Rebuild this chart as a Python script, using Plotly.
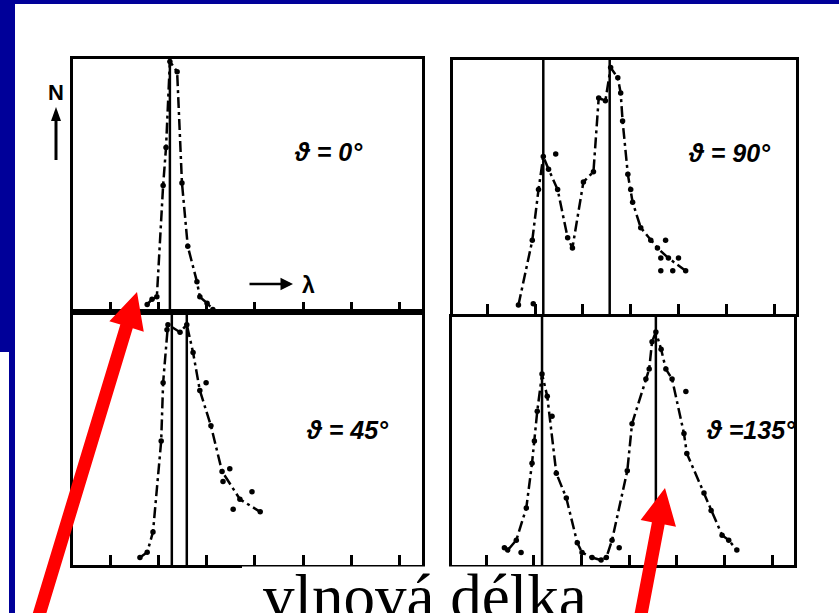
import numpy as np
import plotly.graph_objects as go

W, H = 839, 613

# wavelength in tick units, N normalised to panel height
tl_x = [0.77, 0.87, 0.97, 1.10, 1.16, 1.24, 1.39, 1.49, 1.61, 1.80, 1.86, 2.01, 2.13]
tl_n = [0.03, 0.05, 0.06, 0.50, 0.65, 0.99, 0.95, 0.51, 0.26, 0.12, 0.06, 0.035, 0.01]

tr_x = [0.65, 0.94, 1.07, 1.17, 1.28, 1.47, 1.68, 1.78, 2.01, 2.22, 2.33, 2.47, 2.58,
        2.73, 2.79, 2.83, 2.94, 3.00, 3.04, 3.21, 3.42, 3.56, 3.79, 4.15]
tr_n = [0.035, 0.29, 0.49, 0.62, 0.57, 0.49, 0.30, 0.26, 0.52, 0.56, 0.85, 0.84, 0.97,
        0.93, 0.87, 0.76, 0.55, 0.49, 0.44, 0.34, 0.29, 0.26, 0.22, 0.17]
tr_dots_x = [0.96, 1.43, 3.73, 3.63, 4.00, 3.63, 3.88]
tr_dots_n = [0.04, 0.63, 0.29, 0.22, 0.22, 0.17, 0.17]

bl_x = [0.62, 0.77, 0.89, 1.06, 1.10, 1.18, 1.20, 1.45, 1.59, 1.72, 1.86, 2.09, 2.32, 2.69, 3.11]
bl_n = [0.03, 0.05, 0.13, 0.49, 0.72, 0.93, 0.95, 0.92, 0.95, 0.84, 0.69, 0.55, 0.37, 0.26, 0.21]
bl_dots_x = [1.99, 2.48, 2.55, 2.94, 2.34]
bl_dots_n = [0.72, 0.38, 0.22, 0.29, 0.33]

br_x = [0.45, 0.63, 0.84, 0.96, 1.07, 1.17, 1.28, 1.47, 1.68, 1.91, 2.01, 2.22, 2.41, 2.52,
        2.64, 2.96, 3.06, 3.35, 3.42, 3.48, 3.56, 3.67, 3.77, 3.90, 4.15, 4.21, 4.57, 4.72,
        4.95, 5.09, 5.26]
br_n = [0.06, 0.10, 0.23, 0.41, 0.62, 0.77, 0.68, 0.37, 0.27, 0.09, 0.05, 0.03, 0.02, 0.03,
        0.10, 0.38, 0.57, 0.75, 0.79, 0.90, 0.94, 0.87, 0.79, 0.75, 0.53, 0.45, 0.29, 0.22,
        0.12, 0.10, 0.06]
br_dots_x = [0.38, 0.73, 1.01, 1.38, 2.79, 4.19]
br_dots_n = [0.07, 0.05, 0.50, 0.60, 0.07, 0.70]

# reference wavelengths (vertical lines)
tl_lines = [1.24]
tr_lines = [1.17, 2.56]
bl_lines = [1.28, 1.59]
br_lines = [1.17, 3.56]

labels = ["ϑ = 0°", "ϑ = 90°", "ϑ = 45°", "ϑ =135°"]
tick_vals = [0, 1, 2, 3, 4, 5, 6]


def px(x):
    return x / W


def py(y):
    return 1 - y / H


fig = go.Figure()

panels = [
    ("x", "y", tl_x, tl_n, [], [], tl_lines),
    ("x2", "y2", tr_x, tr_n, tr_dots_x, tr_dots_n, tr_lines),
    ("x3", "y3", bl_x, bl_n, bl_dots_x, bl_dots_n, bl_lines),
    ("x4", "y4", br_x, br_n, br_dots_x, br_dots_n, br_lines),
]

shapes = []
for xa, ya, xs, ns, dx, dn, vlines in panels:
    fig.add_trace(go.Scatter(
        x=xs, y=ns, xaxis=xa, yaxis=ya, mode="lines+markers",
        line=dict(color="black", width=2.5, dash="11px,4px,3px,4px"),
        marker=dict(color="black", size=5.5), showlegend=False
    ))
    if dx:
        fig.add_trace(go.Scatter(
            x=dx, y=dn, xaxis=xa, yaxis=ya, mode="markers",
            marker=dict(color="black", size=5.5), showlegend=False
        ))
    for v in vlines:
        shapes.append(dict(type="line", xref=xa, yref=ya + " domain", x0=v, x1=v, y0=0, y1=1,
                           line=dict(color="black", width=2.5)))

# page background pieces (blue slide frame)
blue = "#000099"
shapes += [
    dict(type="rect", xref="paper", yref="paper", x0=0, x1=1, y0=py(4), y1=1,
         fillcolor=blue, line_width=0, layer="below"),
    dict(type="rect", xref="paper", yref="paper", x0=0, x1=px(15), y0=py(352), y1=1,
         fillcolor=blue, line_width=0, layer="below"),
    dict(type="rect", xref="paper", yref="paper", x0=px(9), x1=px(15), y0=0, y1=py(352),
         fillcolor=blue, line_width=0, layer="below"),
    # white box behind the caption
    dict(type="rect", xref="paper", yref="paper", x0=px(242), x1=px(610), y0=0, y1=py(566.5),
         fillcolor="white", line_width=0, layer="above"),
    # N axis arrow
    dict(type="line", xref="paper", yref="paper", x0=px(56), x1=px(56), y0=py(160), y1=py(118),
         line=dict(color="black", width=3)),
    dict(type="path", xref="paper", yref="paper",
         path=f"M {px(51)},{py(121)} L {px(56)},{py(107)} L {px(61)},{py(121)} Z",
         fillcolor="black", line_width=0),
]


def arrow(tail, tip, width, head_len, head_w):
    t = np.array(tail, float)
    h = np.array(tip, float)
    u = (h - t) / np.linalg.norm(h - t)
    n = np.array([-u[1], u[0]])
    b = h - u * head_len
    pts = [t + n * width / 2, b + n * width / 2, b + n * head_w / 2, h,
           b - n * head_w / 2, b - n * width / 2, t - n * width / 2]
    return "M " + " L ".join(f"{px(p[0]):.5f},{py(p[1]):.5f}" for p in pts) + " Z"


for tail, tip in [((36, 625), (137, 292)), ((639, 625), (665, 488))]:
    shapes.append(dict(type="path", xref="paper", yref="paper", path=arrow(tail, tip, 13, 36, 36),
                       fillcolor="#ff0000", line_width=0, layer="above"))

ax_common = dict(showline=True, mirror=True, linecolor="black", linewidth=3,
                 showgrid=False, zeroline=False, showticklabels=False)
xa = dict(ax_common, ticks="inside", ticklen=10, tickwidth=3, tickcolor="black",
          tickvals=tick_vals)
ya = dict(ax_common, ticks="", range=[0, 1])

left_rng = [-0.766, 6.46]
right_rng = [-0.72, 6.46]

fig.update_layout(
    width=W, height=H,
    margin=dict(l=0, r=0, t=0, b=0, pad=0),
    paper_bgcolor="white", plot_bgcolor="rgba(0,0,0,0)",
    showlegend=False,
    xaxis=dict(xa, domain=[px(73), px(422)], range=left_rng, anchor="y"),
    yaxis=dict(ya, domain=[py(312), py(59)], anchor="x"),
    xaxis2=dict(xa, domain=[px(453), px(796)], range=right_rng, anchor="y2"),
    yaxis2=dict(ya, domain=[py(314), py(60)], anchor="x2"),
    xaxis3=dict(xa, domain=[px(73), px(422)], range=left_rng, anchor="y3"),
    yaxis3=dict(ya, domain=[py(565), py(312)], anchor="x3"),
    xaxis4=dict(xa, domain=[px(452), px(794)], range=right_rng, anchor="y4"),
    yaxis4=dict(ya, domain=[py(565), py(317)], anchor="x4"),
    shapes=shapes,
)

lab_font = dict(family="Liberation Sans", size=25, color="black")
annotations = []
for (cx, cy), t in zip([(328, 152), (729, 153), (347, 430), (751, 430)], labels):
    annotations.append(dict(xref="paper", yref="paper", x=px(cx), y=py(cy), text=f"<b><i>{t}</i></b>",
                            xanchor="center", yanchor="middle", showarrow=False, font=lab_font))

annotations += [
    dict(xref="paper", yref="paper", x=px(56), y=py(92), text="<b>N</b>", showarrow=False,
         xanchor="center", yanchor="middle",
         font=dict(family="Liberation Sans", size=22, color="black")),
    dict(xref="paper", yref="paper", x=px(293), y=py(284), ax=-45, ay=0, text="", showarrow=True,
         arrowhead=2, arrowwidth=2.5, arrowcolor="black", arrowsize=1),
    dict(xref="paper", yref="paper", x=px(308), y=py(285), text="<b>λ</b>", showarrow=False,
         xanchor="center", yanchor="middle",
         font=dict(family="Liberation Sans", size=23, color="black")),
    dict(xref="paper", yref="paper", x=px(425), y=py(597), text="vlnová délka", showarrow=False,
         xanchor="center", yanchor="middle",
         font=dict(family="Liberation Serif", size=63, color="black")),
]
fig.update_layout(annotations=annotations)

fig.write_html("out.html", config={"displayModeBar": False},
               post_script="document.body.style.margin='0px';")
